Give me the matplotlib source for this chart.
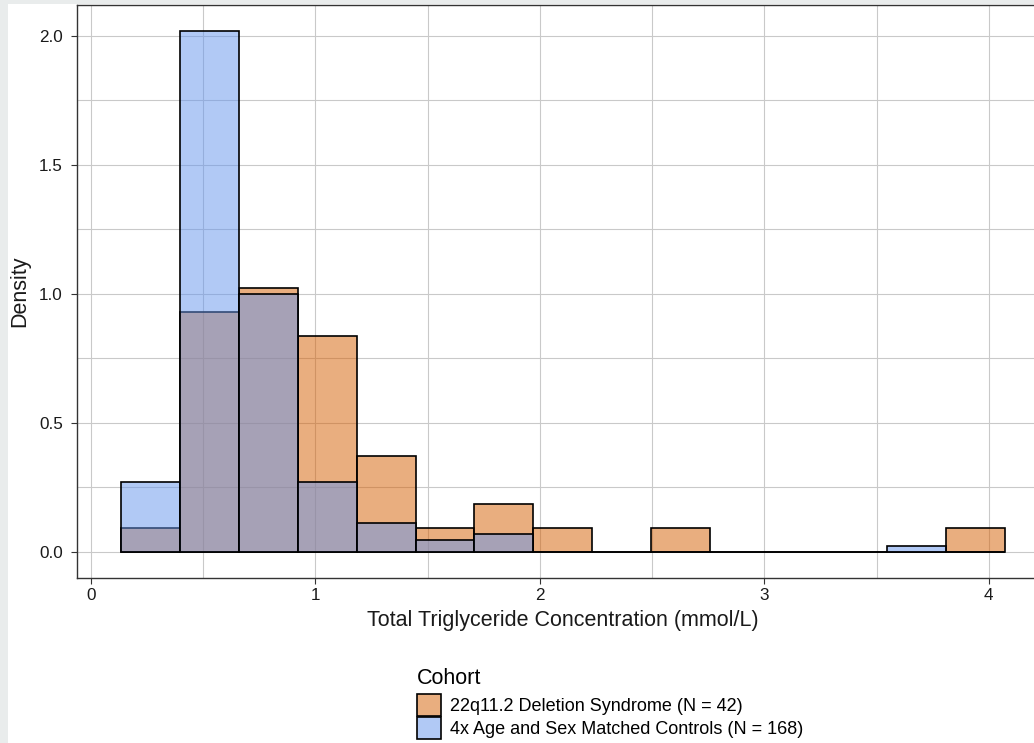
import numpy as np
import matplotlib
matplotlib.use("Agg")
import matplotlib.pyplot as plt
from matplotlib.patches import Rectangle, Patch

plt.rcParams['font.family'] = ['Liberation Sans', 'DejaVu Sans']

# Histogram bins (mmol/L)
bin_start = 0.134
bin_width = 0.2625
n_bins = 15

# Counts per bin
counts_22q = [1, 10, 11, 9, 4, 1, 2, 1, 0, 1, 0, 0, 0, 0, 1]
counts_ctrl = [12, 89, 44, 12, 5, 2, 3, 0, 0, 0, 0, 0, 0, 1, 0]

labels = ["22q11.2 Deletion Syndrome (N = 42)",
          "4x Age and Sex Matched Controls (N = 168)"]
colors = ["#D55E00", "#6495ED"]

xticks = [0, 1, 2, 3, 4]
yticks = [0.0, 0.5, 1.0, 1.5, 2.0]

edges = bin_start + bin_width * np.arange(n_bins + 1)

W, H = 1034, 743
fig = plt.figure(figsize=(W / 100, H / 100), dpi=100)
fig.patch.set_facecolor("white")

# light gray strips at left and top edge of the crop
fig.patches.append(Rectangle((0, 0), 8 / W, 1, transform=fig.transFigure,
                             facecolor="#E9ECEC", edgecolor="none", zorder=0))
fig.patches.append(Rectangle((0, 1 - 4 / H), 1, 4 / H, transform=fig.transFigure,
                             facecolor="#E9ECEC", edgecolor="none", zorder=0))

left, right, top, bottom = 76.7, 1049, 4.9, 578
ax = fig.add_axes([left / W, 1 - bottom / H, (right - left) / W, (bottom - top) / H])
ax.set_facecolor("white")

for i, (counts, col) in enumerate(zip([counts_22q, counts_ctrl], colors)):
    c = np.array(counts, dtype=float)
    dens = c / (c.sum() * bin_width)
    ax.bar(edges[:-1], dens, width=bin_width, align="edge",
           facecolor=matplotlib.colors.to_rgba(col, 0.5),
           edgecolor="black", linewidth=1.2, zorder=2 + i)

rng = edges[-1] - edges[0]
ax.set_xlim(edges[0] - 0.05 * rng, edges[-1] + 0.05 * rng)
ymax = max(np.array(counts_ctrl) / (sum(counts_ctrl) * bin_width))
ax.set_ylim(-0.05 * ymax, ymax * 1.05)

ax.set_xticks(xticks)
ax.set_xticklabels([str(t) for t in xticks])
ax.set_yticks(yticks)
ax.set_yticklabels([f"{t:.1f}" for t in yticks])
ax.set_xticks(np.arange(0.5, 4.3, 1.0), minor=True)
ax.set_yticks(np.arange(0.25, 2.1, 0.5), minor=True)
ax.grid(True, which="both", color="#C9C9C9", linewidth=0.8, zorder=0)
ax.set_axisbelow(True)
ax.tick_params(which="minor", length=0)
ax.tick_params(which="major", length=4, width=0.8, color="#333333",
               labelsize=12.3, labelcolor="#1A1A1A")
ax.tick_params(axis="y", pad=6)
ax.tick_params(axis="x", pad=3)

for s in ax.spines.values():
    s.set_color("#333333")
    s.set_linewidth(1.0)

ax.set_xlabel("Total Triglyceride Concentration (mmol/L)", fontsize=15.5,
              color="#1A1A1A", labelpad=5.5)
ax.set_ylabel("Density", fontsize=15.5, color="#1A1A1A", labelpad=6)

handles = [Patch(facecolor=matplotlib.colors.to_rgba(c, 0.5), edgecolor="black",
                 linewidth=1.2) for c in colors]
leg = fig.legend(handles, labels, title="Cohort", loc="upper left",
                 bbox_to_anchor=(404 / W, 1 - 655 / H), frameon=False,
                 fontsize=13, title_fontsize=15.5, handlelength=1.35,
                 handleheight=1.5, handletextpad=0.5, labelspacing=0.05,
                 borderpad=0.2)
leg._legend_box.align = "left"
leg._legend_box.sep = 4

fig.savefig("out.png", dpi=100)
